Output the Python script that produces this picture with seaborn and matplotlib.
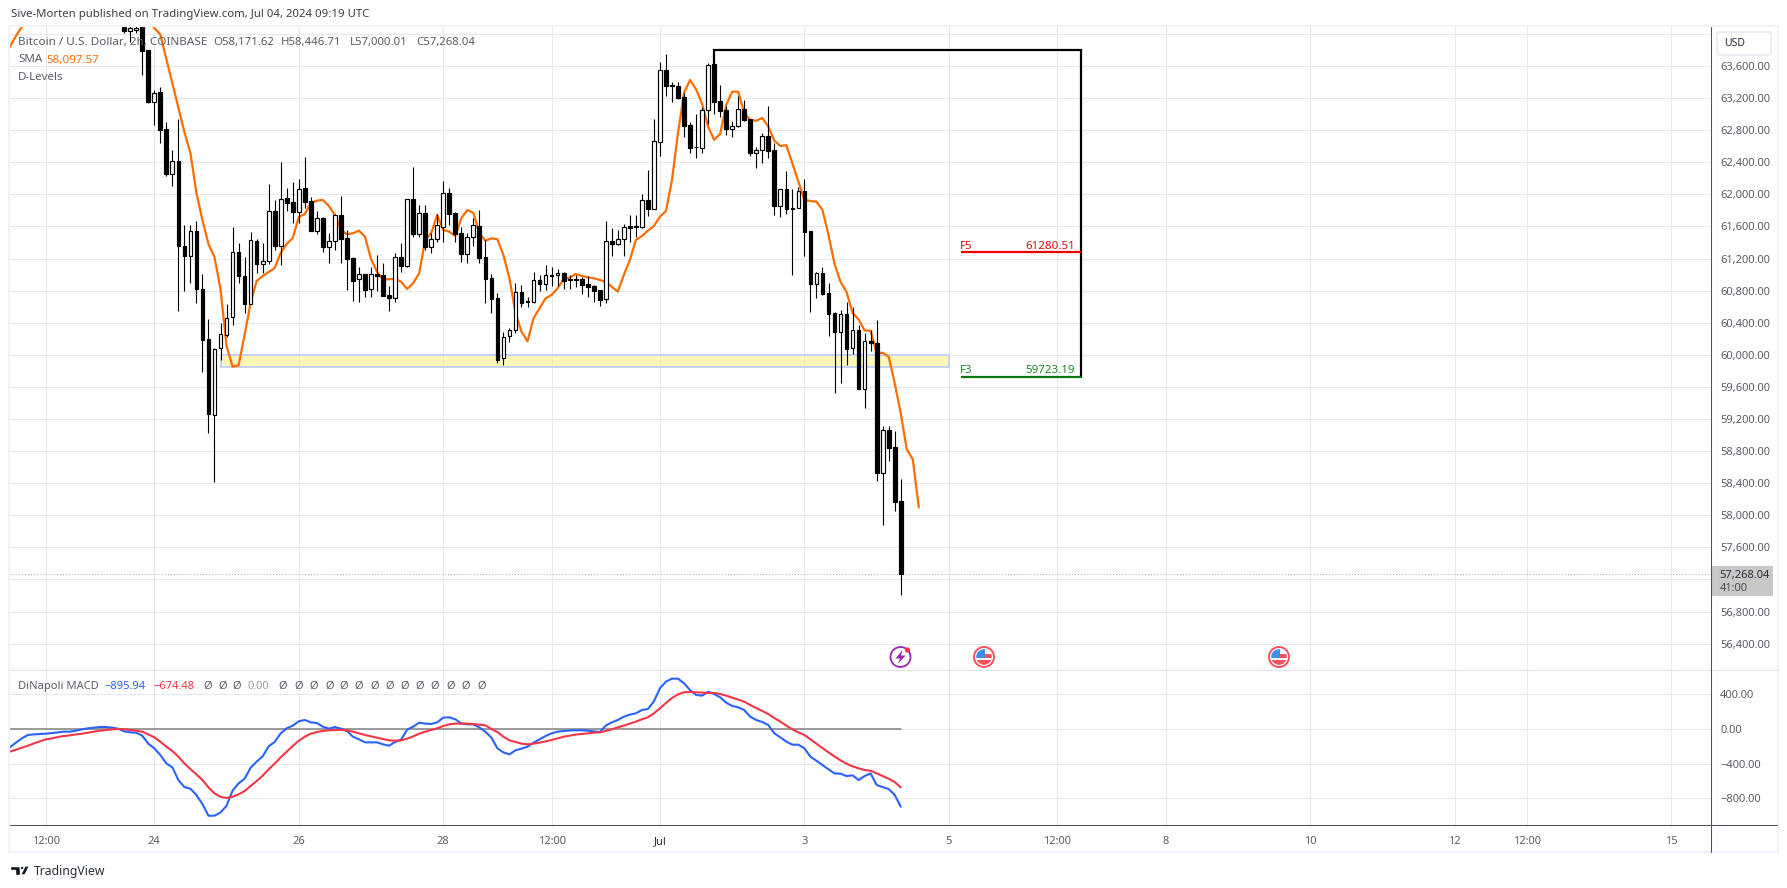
import numpy as np
import pandas as pd
import seaborn as sns
import matplotlib.pyplot as plt
from matplotlib.patches import Circle, Polygon, Rectangle, FancyBboxPatch

# 2h candles, counted from Jun 24 00:00 (t=0), first candle is t=-5
open_p = [64086, 64040, 64049, 64150, 63800,
          63155, 63272, 62815, 62258, 62412,
          61360, 61235, 61543, 60820, 60193,
          59253, 60081, 60247, 60467, 61278,
          60982, 60637, 61415, 61136, 61166,
          61789, 61360, 61951, 61901, 61784,
          62076, 61914, 61547, 61702, 61348,
          61422, 61739, 61452, 61203, 60941,
          61003, 60817, 61003, 60991, 60742,
          60712, 61215, 61111, 61939, 61510,
          61764, 61348, 61447, 61597, 62013,
          61764, 61515, 61253, 61465, 61602,
          61215, 60954, 60704, 59956, 60231,
          60305, 60779, 60667, 60662, 60929,
          60879, 60991, 60991, 61016, 60941,
          60941, 60941, 60879, 60858, 60804,
          60692, 61415, 61385, 61440, 61602,
          61600, 61597, 61926, 61821, 62657,
          63550, 63357, 63351, 63214, 62865,
          62589, 62582, 63048, 63625, 63160,
          63048, 62819, 62849, 63061, 62936,
          62519, 62549, 62724, 62549, 61859,
          62063, 61834, 61834, 62038, 61540,
          60886, 61016, 60767, 60517, 60288,
          60505, 60089, 60306, 59577, 60168,
          60143, 58530, 59059, 58847, 58171.62]
close_p = [64037, 64074, 64074, 63791, 63155,
           63267, 62806, 62258, 62412, 61360,
           61235, 61543, 60814, 60184, 59262,
           60069, 60256, 60455, 61278, 60986,
           60637, 61427, 61136, 61166, 61789,
           61360, 61946, 61896, 61784, 62063,
           61909, 61547, 61702, 61348, 61422,
           61739, 61447, 61198, 60924, 61003,
           60812, 61003, 60986, 60737, 60712,
           61215, 61111, 61939, 61510, 61764,
           61348, 61447, 61614, 62013, 61759,
           61510, 61253, 61465, 61614, 61210,
           60949, 60699, 59935, 60226, 60309,
           60779, 60650, 60662, 60929, 60879,
           60991, 60985, 61016, 60924, 60937,
           60937, 60874, 60849, 60799, 60687,
           61415, 61385, 61440, 61589, 61584,
           61594, 61926, 61821, 62665, 63550,
           63355, 63352, 63201, 62856, 62582,
           62584, 63048, 63609, 63155, 63043,
           62819, 62849, 63061, 62931, 62519,
           62549, 62724, 62544, 61859, 62063,
           61821, 61821, 62038, 61535, 60886,
           61016, 60762, 60512, 60288, 60505,
           60076, 60306, 59577, 60168, 60143,
           58530, 59059, 58842, 58169, 57268.04]
high_p = [64150, 64200, 64150, 64300, 63800,
          63301, 63338, 62902, 62553, 62940,
          61618, 61618, 61668, 61007, 60443,
          60085, 60396, 60633, 61589, 61390,
          61215, 61527, 61444, 61390, 62129,
          61930, 62404, 62079, 62150, 62192,
          62462, 61971, 61793, 61722, 61518,
          61755, 61980, 61556, 61215, 61091,
          61007, 61095, 61244, 61141, 60858,
          61269, 61390, 61942, 62337, 61867,
          61867, 61518, 61755, 62163, 62076,
          61784, 61589, 61515, 61702, 61801,
          61431, 61007, 60767, 60281, 60330,
          60891, 60870, 60724, 61036, 60995,
          61120, 61098, 61070, 61036, 60995,
          60995, 60966, 60983, 60870, 60808,
          61672, 61577, 61556, 61631, 61743,
          61743, 62005, 62304, 62940, 63646,
          63750, 63397, 63397, 63260, 62898,
          63002, 63085, 63634, 63625, 63363,
          63102, 62915, 63226, 63176, 62943,
          62591, 62761, 63102, 62644, 62067,
          62291, 62063, 62088, 62188, 61543,
          61032, 61091, 60891, 60537, 60559,
          60655, 60592, 60372, 60268, 60309,
          60434, 59112, 59112, 59050, 58446.71]
low_p = [64012, 63899, 64011, 63488, 63139,
         62865, 62644, 62229, 62104, 60550,
         60799, 60899, 60650, 59789, 59025,
         58418, 59935, 60226, 60372, 60899,
         60521, 60633, 61023, 61023, 61128,
         61307, 61120, 61793, 61647, 61643,
         61830, 61543, 61506, 61285, 61148,
         61307, 61148, 60808, 60674, 60662,
         60724, 60724, 60799, 60737, 60550,
         60662, 61036, 61091, 61465, 61465,
         61307, 61273, 61406, 61410, 61618,
         61406, 61161, 61141, 61360, 61141,
         60650, 60525, 59902, 59877, 60163,
         60276, 60600, 60600, 60650, 60795,
         60808, 60858, 60858, 60824, 60824,
         60849, 60762, 60724, 60662, 60612,
         60650, 61232, 61369, 61232, 61406,
         61472, 61577, 61730, 61821, 62482,
         63230, 63155, 63189, 62719, 62519,
         62450, 62519, 62877, 63000, 62968,
         62740, 62719, 62844, 62919, 62478,
         62332, 62395, 62457, 61743, 61722,
         61755, 60995, 61834, 61232, 60537,
         60712, 60746, 60234, 59520, 59652,
         59873, 60010, 59577, 59341, 60047,
         58430, 57878, 58680, 58053, 57000.01]

# orange SMA, displaced, t=-1 to t=127
sma_p = [64174, 64074, 63993, 63688, 63388, 63077, 62777, 62516, 62017, 61680,
         61381, 61219, 60820, 60110, 59852, 59867, 60247, 60646, 60920, 60982,
         61032, 61082, 61269, 61381, 61456, 61718, 61755, 61892, 61921, 61930,
         61855, 61743, 61556, 61502, 61515, 61547, 61472, 61194, 61036, 60941,
         60941, 60945, 60911, 60820, 60891, 61016, 61431, 61515, 61743, 61556,
         61535, 61481, 61702, 61805, 61771, 61515, 61422, 61452, 61440, 61244,
         60954, 60521, 60288, 60168, 60455, 60580, 60704, 60746, 60829, 60945,
         60961, 61007, 60982, 60966, 60954, 60933, 60908, 60849, 60787, 60995,
         61182, 61431, 61481, 61547, 61606, 61722, 61793, 62179, 62765, 63264,
         63426, 63310, 63127, 62844, 62678, 62753, 63114, 63280, 63280, 63014,
         62927, 62918, 62952, 62844, 62669, 62603, 62612, 62387, 62158, 61930,
         61917, 61909, 61805, 61493, 61132, 60908, 60783, 60521, 60440, 60303,
         60300, 60019, 60026, 59976, 59645, 59271, 58822, 58697, 58099]
# small piece of the SMA at the far left, t=-24 to t=-21
sma_left = [63837, 63974, 64086, 64236]

# DiNapoli MACD, t=-24 to t=124
macd_blue = [-212, -158, -108, -69, -62, -58, -54, -46, -39, -31, -31, -19, -4, 8, 15, 23, 23, 15, 4, -27, -39, -42, -77, -169,
             -223, -300, -397, -443, -589, -670, -689, -762, -866, -1001, -1001, -963, -886, -712, -628, -574, -447, -377, -316, -200,
             -150, -50, 8, 39, 89, 104, 77, 69, 27, 4, 23, 4, -23, -89, -119, -154, -154, -154, -177, -193, -150, -123, -8, 27,
             73, 62, 58, 77, 131, 135, 112, 65, 54, 54, 19,
             -31, -100, -223, -270, -293, -246, -227, -204, -158, -119, -81, -50, -31, -23, -17, -15, -15, -19, -27, -35,
             39, 77, 104, 142, 166, 181, 219, 231, 320, 470, 547, 581, 581, 527, 450, 393, 385, 431, 404, 366,
             304, 266, 250, 219, 142, 104, 81, 46, -50, -96, -146, -181, -181, -223, -320, -366, -416, -466, -512, -516,
             -543, -535, -589, -543, -512, -647, -670, -693, -762, -896]
macd_red = [-262, -239, -216, -193, -166, -142, -119, -108, -92, -81, -73, -62, -54, -42, -31, -19, -12, -4, 0, -4, -12, -19, -31, -62,
            -96, -146, -204, -254, -320, -397, -462, -524, -589, -674, -743, -782, -797, -782, -755, -716, -658, -601, -539, -466,
            -400, -327, -262, -196, -135, -89, -54, -35, -23, -15, -12, -10, -15, -31, -50, -69, -85, -100, -116, -131, -135, -131,
            -112, -85, -54, -31, -12, 8, 35, 54, 62, 62, 62, 58, 50,
            42, 0, -35, -89, -131, -150, -169, -177, -169, -158, -142, -127, -108, -89, -77, -65, -58, -50, -42, -39,
            -23, -4, 19, 39, 62, 85, 112, 135, 181, 239, 300, 358, 400, 424, 427, 424, 420, 416, 416, 404,
            385, 362, 339, 316, 277, 243, 208, 173, 127, 85, 39, -4, -39, -69, -119, -169, -219, -270, -316, -362,
            -400, -431, -454, -474, -481, -512, -543, -574, -612, -674]

price_ticks = list(range(56400, 64001, 400))
macd_ticks = [-800, -400, 0, 400]
macd_tick_labels = ["\u2212800.00", "\u2212400.00", "0.00", "400.00"]
time_ticks = [-18, 0, 24, 48, 66, 84, 108, 132, 150, 168, 192, 216, 228, 252]
time_labels = ["12:00", "24", "26", "28", "12:00", "Jul", "3", "5", "12:00", "8", "10", "12", "12:00", "15"]

last_price = 57268.04
level_f5 = 61280.51
level_f3 = 59723.19
box_top = 63800
zone_low, zone_high = 59844, 59997

GRID = "#e3eaf0"
AXIS = "#50535e"
TEXT = "#5a5d68"
BLACK = "#000000"
ORANGE = "#ff6d00"
BLUE = "#2962ff"
RED = "#f23645"
FRAME = "#f0f3fa"

sns.set_theme(style="white")
plt.rcParams["font.family"] = ["Noto Sans", "DejaVu Sans"]

W, H = 1787, 888
fig = plt.figure(figsize=(W / 100, H / 100), dpi=100, facecolor="white")


def pane(x0, y0, x1, y1):
    return fig.add_axes([x0 / W, 1 - y1 / H, (x1 - x0) / W, (y1 - y0) / H])


ax = pane(10, 27, 1711, 670)
ax2 = pane(10, 670, 1711, 825)
xlim = (-23.97, 258.6)

# ---- price pane
candle_t = np.arange(-5, 125)
df = pd.DataFrame({"t": candle_t, "o": open_p, "h": high_p, "l": low_p, "c": close_p})
df["up"] = df["c"] >= df["o"]

ax.add_patch(Rectangle((11, zone_low), 121, zone_high - zone_low, facecolor="#fff176", alpha=0.5,
                       edgecolor="none", zorder=1))
ax.add_patch(Rectangle((11, zone_low), 121, zone_high - zone_low, facecolor="none",
                       edgecolor="#c5d3f6", linewidth=1.5, zorder=1.1))

sma_df = pd.DataFrame({"t": np.arange(-1, 128), "sma": sma_p})
sns.lineplot(data=sma_df, x="t", y="sma", color=ORANGE, linewidth=1.6, ax=ax, zorder=2)
sns.lineplot(x=np.arange(-24, -20), y=sma_left, color=ORANGE, linewidth=1.6, ax=ax, zorder=2)

ax.vlines(df["t"], df["l"], df["h"], color=BLACK, linewidth=0.8, zorder=3)
ax.bar(df["t"], (df["c"] - df["o"]).abs(), bottom=df[["o", "c"]].min(axis=1), width=0.62,
       color=["white" if u else BLACK for u in df["up"]], edgecolor=BLACK, linewidth=0.85, zorder=3.5)

# D-Levels box
ax.plot([93, 93, 154, 154], [63625, box_top, box_top, level_f3], color=BLACK, linewidth=1.6, zorder=4,
        solid_joinstyle="miter")
ax.plot([134, 154], [level_f5, level_f5], color="#f20000", linewidth=1.6, zorder=4, solid_capstyle="butt")
ax.plot([134, 154], [level_f3, level_f3], color="#087a10", linewidth=1.6, zorder=4, solid_capstyle="butt")

ax.axhline(last_price, color="#a6a9b2", linewidth=0.7, linestyle=(0, (1, 2)), zorder=1.2)

ax.set_xlim(xlim)
ax.set_ylim(56071, 64086)
ax.set_yticks(price_ticks)
ax.set_yticklabels(["" if p in (57200, 64000) else f"{p:,.2f}" for p in price_ticks])

# ---- MACD pane
macd_t = np.arange(-24, 125)
macd_df = pd.DataFrame({"t": macd_t, "macd": macd_blue, "signal": macd_red})
ax2.plot([-24, 124], [0, 0], color="#8a8a8a", linewidth=1.2, zorder=1.5)
sns.lineplot(data=macd_df, x="t", y="macd", color=BLUE, linewidth=1.5, ax=ax2, zorder=2)
sns.lineplot(data=macd_df, x="t", y="signal", color=RED, linewidth=1.5, ax=ax2, zorder=2.5)
ax2.set_xlim(xlim)
ax2.set_ylim(-1108, 681)
ax2.set_yticks(macd_ticks)
ax2.set_yticklabels(macd_tick_labels)

for a in (ax, ax2):
    a.set_xlabel("")
    a.set_ylabel("")
    a.set_xticks(time_ticks)
    a.set_axisbelow(True)
    a.grid(True, color=GRID, linewidth=0.75)
    a.yaxis.tick_right()
    a.tick_params(axis="y", length=0, pad=6.5, labelsize=8, labelcolor=TEXT)
    for s in a.spines.values():
        s.set_visible(False)
ax.tick_params(axis="x", length=0, labelbottom=False)
ax2.set_xticklabels(time_labels)
ax2.tick_params(axis="x", length=0, pad=8, labelsize=8, labelcolor=TEXT)
ax2.get_xticklabels()[5].set_color("#2a2e39")

# ---- overlay in pixels for the chart chrome and text
ov = fig.add_axes([0, 0, 1, 1], zorder=10)
ov.set_xlim(0, W)
ov.set_ylim(H, 0)
ov.axis("off")
ov.patch.set_alpha(0)

ov.add_patch(Rectangle((9, 26), 1769, 826, fill=False, edgecolor=FRAME, linewidth=1.6))
ov.plot([10, 1777], [670, 670], color="#e0e3eb", linewidth=0.75)
ov.plot([10, 1777], [825, 825], color=AXIS, linewidth=0.75)
ov.plot([1711, 1711], [27, 852], color=AXIS, linewidth=0.75)


def txt(x, y, s, color=TEXT, size=8.0, ha="left", **kw):
    ov.text(x, y, s, color=color, fontsize=size, ha=ha, va="center", **kw)


txt(11, 15, "Sive-Morten published on TradingView.com, Jul 04, 2024 09:19 UTC", color="#3c3f48", size=8.2)

txt(18, 43, "Bitcoin / U.S. Dollar, 2h, COINBASE", size=8.4)
txt(213, 43, "O58,171.62", size=8.2)
txt(281, 43, "H58,446.71", size=8.2)
txt(350, 43, "L57,000.01", size=8.2)
txt(416, 43, "C57,268.04", size=8.2)
txt(18, 60, "SMA", size=8.3)
txt(46, 60, "58,097.57", color=ORANGE, size=8.3)
txt(18, 77, "D-Levels", size=8.3)

txt(18, 686.5, "DiNapoli MACD")
txt(104, 686.5, "\u2212895.94", color=BLUE)
txt(153.5, 686.5, "\u2212674.48", color=RED)
for x in [207.5, 222.5, 237, 283, 298.5, 313.5, 329.5, 344, 359, 374.5, 390, 405, 420, 435, 450.5, 466, 481.5]:
    txt(x, 686.5, "\u00d8", ha="center")
txt(248, 686.5, "0.00", color="#9a9da6")

txt(960, 246, "F5", color="#e01010", size=8.3)
txt(1075, 246, "61280.51", color="#e01010", ha="right", size=8.3)
txt(960, 370, "F3", color="#1c8a22", size=8.3)
txt(1075, 370, "59723.19", color="#1c8a22", ha="right", size=8.3)

# USD button and last price tag
ov.add_patch(FancyBboxPatch((1717, 32), 54, 23, boxstyle="round,pad=0,rounding_size=3",
                            facecolor="white", edgecolor="#e6e8f0", linewidth=1.0))
txt(1724, 44, "USD", color="#2a2e39", size=7.5)
ov.add_patch(Rectangle((1711, 566), 62, 30, facecolor="#c8c8c8", edgecolor="none"))
txt(1719.5, 575.5, "57,268.04", color="#2a2e39")
txt(1719.5, 588, "41:00", color="#4a4d55")

# event icons
ov.add_patch(Circle((900.5, 657), 10, facecolor="white", edgecolor="#9c27b0", linewidth=1.3))
ov.add_patch(Polygon([(902.5, 650), (895.5, 658.5), (900, 658.5), (898, 664), (905.5, 655.5), (901, 655.5)],
                     facecolor="#9c27b0", edgecolor="none"))
ov.add_patch(Circle((907.5, 650), 2.6, facecolor="#f23645", edgecolor="none"))


def flag_icon(cx, cy):
    ov.add_patch(Circle((cx, cy), 10, facecolor="white", edgecolor="#f7525f", linewidth=1.4))
    clip = Circle((cx, cy), 7.8, transform=ov.transData)
    for (x, y, w, h, col) in [(-8, -8, 8.5, 9, "#3d8fe6"), (0.5, -3, 7.5, 4, "#f7525f"), (-8, 3, 16, 5, "#f7525f")]:
        r = Rectangle((cx + x, cy + y), w, h, facecolor=col, edgecolor="none")
        ov.add_patch(r)
        r.set_clip_path(clip)


flag_icon(984, 657)
flag_icon(1279, 657)

# TradingView logo
ov.add_patch(Polygon([(10, 866), (19.5, 866), (19.5, 875), (14.5, 875), (14.5, 870), (10, 870)], facecolor="#131722"))
ov.add_patch(Circle((22.3, 868), 2, facecolor="#131722"))
ov.add_patch(Polygon([(25, 866), (29.5, 866), (25, 875), (20.5, 875)], facecolor="#131722"))
txt(33.5, 871, "TradingView", color="#2a2e39", size=8.8)

fig.savefig("out.png", dpi=100)
